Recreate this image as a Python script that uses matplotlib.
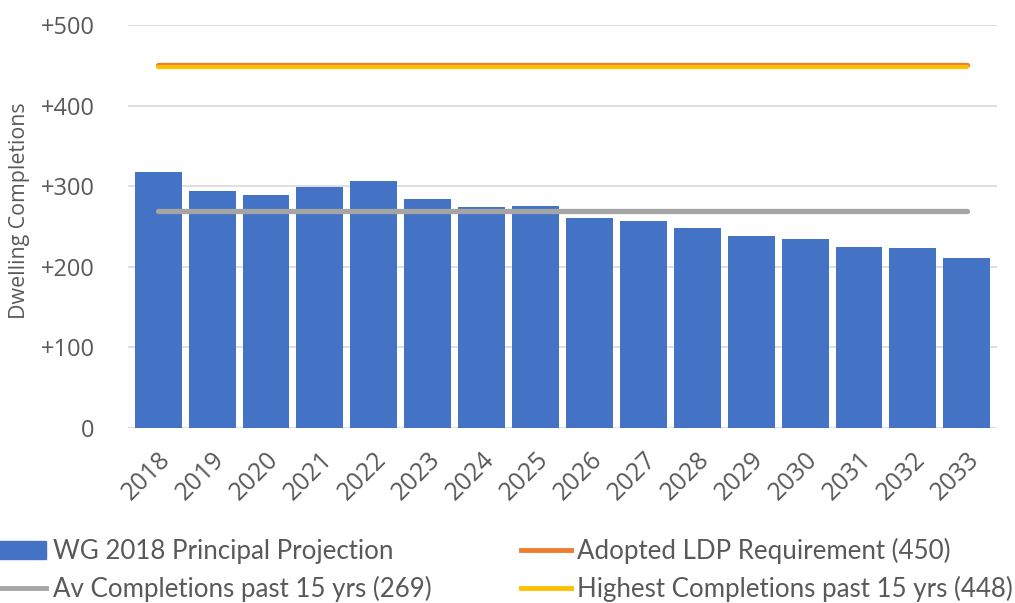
import matplotlib
matplotlib.use("Agg")
import matplotlib.pyplot as plt
from matplotlib.patches import Patch
from matplotlib.lines import Line2D

years = [str(y) for y in range(2018, 2034)]
projection = [318, 294, 289, 299, 306, 284, 274, 275, 261, 257, 248, 238, 234, 225, 223, 211]
ldp_requirement = 450
highest_completions = 448
avg_completions = 269
yticks = [0, 100, 200, 300, 400, 500]
ytick_labels = ["0", "+100", "+200", "+300", "+400", "+500"]

blue = "#4472C4"
orange = "#ED7D31"
gray = "#A5A5A5"
yellow = "#FFC000"
text_col = "#595959"

plt.rcParams['font.family'] = ['Open Sans', 'DejaVu Sans']

fig = plt.figure(figsize=(10.15, 6.03), dpi=100)
ax = fig.add_axes([128/1015, 1-428/603, (997-128)/1015, (428-25)/603])

x = list(range(len(years)))
ax.bar(x, projection, width=0.87, color=blue, zorder=2)
ax.plot([x[0], x[-1]], [avg_completions]*2, color=gray, lw=3.8, solid_capstyle='round', zorder=3)
ax.plot([x[0], x[-1]], [ldp_requirement]*2, color=orange, lw=3.8, solid_capstyle='round', zorder=3)
ax.plot([x[0], x[-1]], [highest_completions]*2, color=yellow, lw=3.0, solid_capstyle='round', zorder=4)

ax.set_xlim(-0.56, len(years)-0.44)
ax.set_ylim(0, 500)
ax.set_yticks(yticks)
ax.set_yticklabels(ytick_labels, fontsize=17, color=text_col)
ax.set_xticks(x)
ax.set_xticklabels(years, rotation=45, ha='right', rotation_mode='anchor', fontsize=18, color=text_col)
ax.tick_params(axis='both', length=0)
ax.tick_params(axis='y', pad=24)
ax.tick_params(axis='x', pad=14)
ax.grid(axis='y', color='#D9D9D9', lw=1.2, zorder=0)
ax.set_axisbelow(True)
for s in ax.spines.values():
    s.set_visible(False)
ax.set_ylabel("Dwelling Completions", fontsize=15.4, color=text_col)
ax.yaxis.set_label_coords(-0.113, 0.538)

handles = [
    Patch(facecolor=blue, edgecolor=blue),
    Line2D([0], [0], color=gray, lw=3.5),
    Line2D([0], [0], color=orange, lw=3.5),
    Line2D([0], [0], color=yellow, lw=3.5),
]
labels = [
    "WG 2018 Principal Projection",
    "Av Completions past 15 yrs (269)",
    "Adopted LDP Requirement (450)",
    "Highest Completions past 15 yrs (448)",
]
leg = fig.legend(handles, labels, loc='upper left', bbox_to_anchor=(-0.004, 0.108), ncol=2,
                 frameon=False, handlelength=1.95, handletextpad=0.25,
                 columnspacing=3.45, labelspacing=0.45, borderpad=0, borderaxespad=0,
                 prop={'family': ['Lato', 'DejaVu Sans'], 'size': 18.6})
for t in leg.get_texts():
    t.set_color(text_col)

fig.savefig("out.png", dpi=100)
